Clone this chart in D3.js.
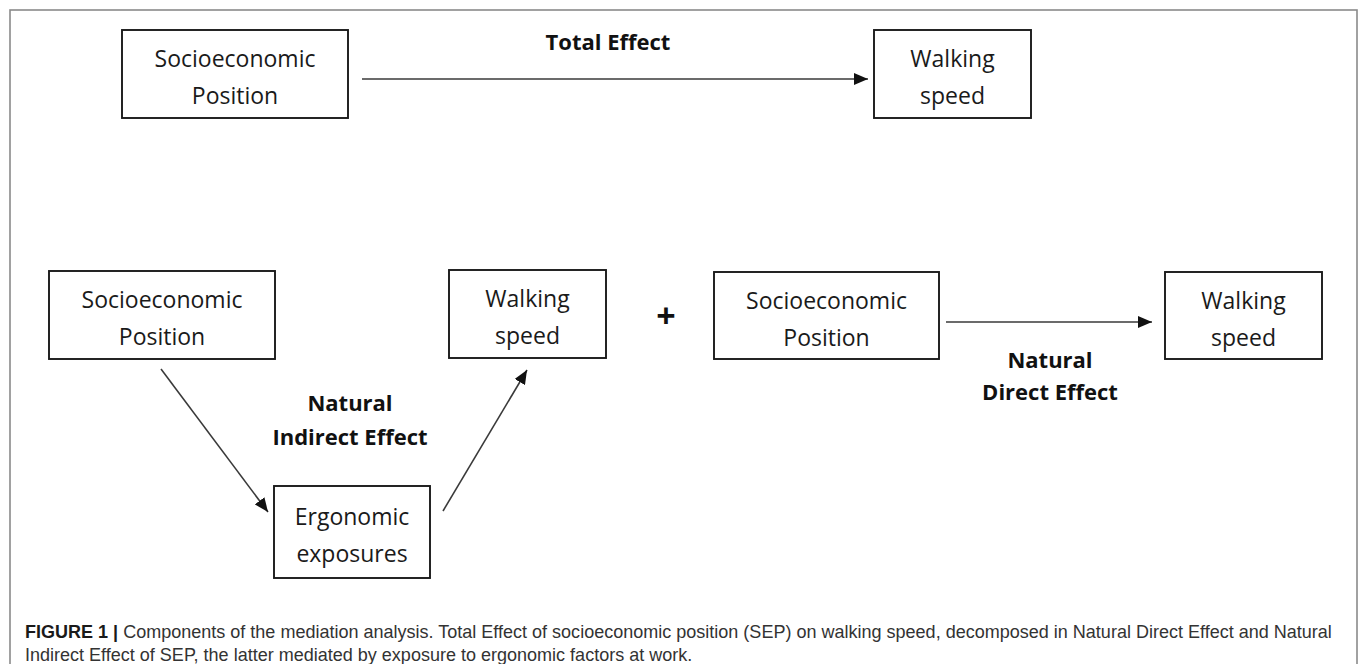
<!DOCTYPE html>
<html>
<head>
<meta charset="utf-8">
<script src="https://cdn.jsdelivr.net/npm/d3@7"></script>
<style>
  body { margin: 0; background: #fff; }
  svg { display: block; }
</style>
</head>
<body>
<div id="figure"></div>
<script>
// nodes of the mediation diagram
var nodeIds = ["sepTop", "walkTop", "sepLeft", "walkLeft", "ergo", "sepRight", "walkRight"];
var nodeLines = [
    ["Socioeconomic", "Position"],
    ["Walking", "speed"],
    ["Socioeconomic", "Position"],
    ["Walking", "speed"],
    ["Ergonomic", "exposures"],
    ["Socioeconomic", "Position"],
    ["Walking", "speed"]
];
var edgeFrom = ["sepTop", "sepLeft", "ergo", "sepRight"];
var edgeTo = ["walkTop", "ergo", "walkLeft", "walkRight"];
var effectLabels = [["Total Effect"], ["Natural", "Indirect Effect"], ["Natural", "Direct Effect"]];
var captionBold = "FIGURE 1 |";
var captionLines = [
    " Components of the mediation analysis. Total Effect of socioeconomic position (SEP) on walking speed, decomposed in Natural Direct Effect and Natural",
    "Indirect Effect of SEP, the latter mediated by exposure to ergonomic factors at work."
];

// layout (pixel boxes x0, y0, x1, y1)
var boxes = {
    sepTop: [122, 30, 348, 118],
    walkTop: [874, 30, 1031, 118],
    sepLeft: [49, 271, 275, 359],
    walkLeft: [449, 270, 606, 358],
    ergo: [274, 486, 430, 578],
    sepRight: [714, 272, 939, 359],
    walkRight: [1165, 272, 1322, 359]
};
var edgeEnds = [
    [[362, 79], [868, 79]],
    [[161, 369], [268, 512]],
    [[443, 511], [527, 370]],
    [[946, 322], [1152, 322]]
];
var labelPos = [[608, 50], [350, 411], [1050, 368]];
var labelGap = [0, 34, 32];

var width = 1360, height = 664;

var svg = d3.select("#figure")
    .append("svg")
    .attr("width", width)
    .attr("height", height);

svg.append("rect")
    .attr("x", 10).attr("y", 10)
    .attr("width", 1347).attr("height", 700)
    .attr("fill", "none")
    .attr("stroke", "#8a8a8a")
    .attr("stroke-width", 1.6);

svg.append("defs").append("marker")
    .attr("id", "head")
    .attr("markerUnits", "userSpaceOnUse")
    .attr("viewBox", "0 0 14 12")
    .attr("refX", 14).attr("refY", 6)
    .attr("markerWidth", 14).attr("markerHeight", 12)
    .attr("orient", "auto")
    .append("path")
    .attr("d", "M0,0L14,6L0,12Z")
    .attr("fill", "#111");

var nodeFont = "'Open Sans', Lato, sans-serif";

var nodes = svg.selectAll("g.node")
    .data(nodeIds)
    .enter()
    .append("g")
    .attr("class", "node");

nodes.append("rect")
    .attr("x", function (d) { return boxes[d][0]; })
    .attr("y", function (d) { return boxes[d][1]; })
    .attr("width", function (d) { return boxes[d][2] - boxes[d][0]; })
    .attr("height", function (d) { return boxes[d][3] - boxes[d][1]; })
    .attr("fill", "#fff")
    .attr("stroke", "#1a1a1a")
    .attr("stroke-width", 1.9);

nodes.each(function (d, i) {
    var b = boxes[d];
    var cx = (b[0] + b[2]) / 2, cy = (b[1] + b[3]) / 2;
    d3.select(this).selectAll("text")
        .data(nodeLines[i])
        .enter()
        .append("text")
        .attr("x", cx)
        .attr("y", function (t, j) { return cy - 7 + j * 37; })
        .attr("text-anchor", "middle")
        .style("font-family", nodeFont)
        .style("font-size", "23px")
        .style("fill", "#1a1a1a")
        .text(function (t) { return t; });
});

svg.selectAll("line.edge")
    .data(edgeFrom)
    .enter()
    .append("line")
    .attr("class", "edge")
    .attr("x1", function (d, i) { return edgeEnds[i][0][0]; })
    .attr("y1", function (d, i) { return edgeEnds[i][0][1]; })
    .attr("x2", function (d, i) { return edgeEnds[i][1][0]; })
    .attr("y2", function (d, i) { return edgeEnds[i][1][1]; })
    .attr("stroke", "#3a3a3a")
    .attr("stroke-width", 1.6)
    .attr("marker-end", "url(#head)");

effectLabels.forEach(function (lines, i) {
    svg.selectAll("text.eff" + i)
        .data(lines)
        .enter()
        .append("text")
        .attr("class", "eff" + i)
        .attr("x", labelPos[i][0])
        .attr("y", function (t, j) { return labelPos[i][1] + j * labelGap[i]; })
        .attr("text-anchor", "middle")
        .style("font-family", nodeFont)
        .style("font-weight", "bold")
        .style("font-size", "22px")
        .style("fill", "#111")
        .text(function (t) { return t; });
});

svg.append("text")
    .attr("x", 666).attr("y", 328)
    .attr("text-anchor", "middle")
    .style("font-family", nodeFont)
    .style("font-weight", "bold")
    .style("font-size", "34px")
    .style("fill", "#111")
    .text("+");

// caption
var cap = svg.append("g")
    .style("font-family", "'Liberation Sans', Arial, sans-serif")
    .style("font-size", "17px")
    .style("fill", "#333");

var line1 = cap.append("text").attr("x", 25).attr("y", 638);
line1.append("tspan").style("font-weight", "bold").style("fill", "#1a1a1a").text(captionBold);
line1.append("tspan").text(captionLines[0]);

var line2 = cap.append("text").attr("x", 25).attr("y", 661).text(captionLines[1]);

// fit caption width to the figure
var w1 = line1.node().getComputedTextLength();
var fs = 17 * 1308 / w1;
cap.style("font-size", fs + "px");
</script>
</body>
</html>
